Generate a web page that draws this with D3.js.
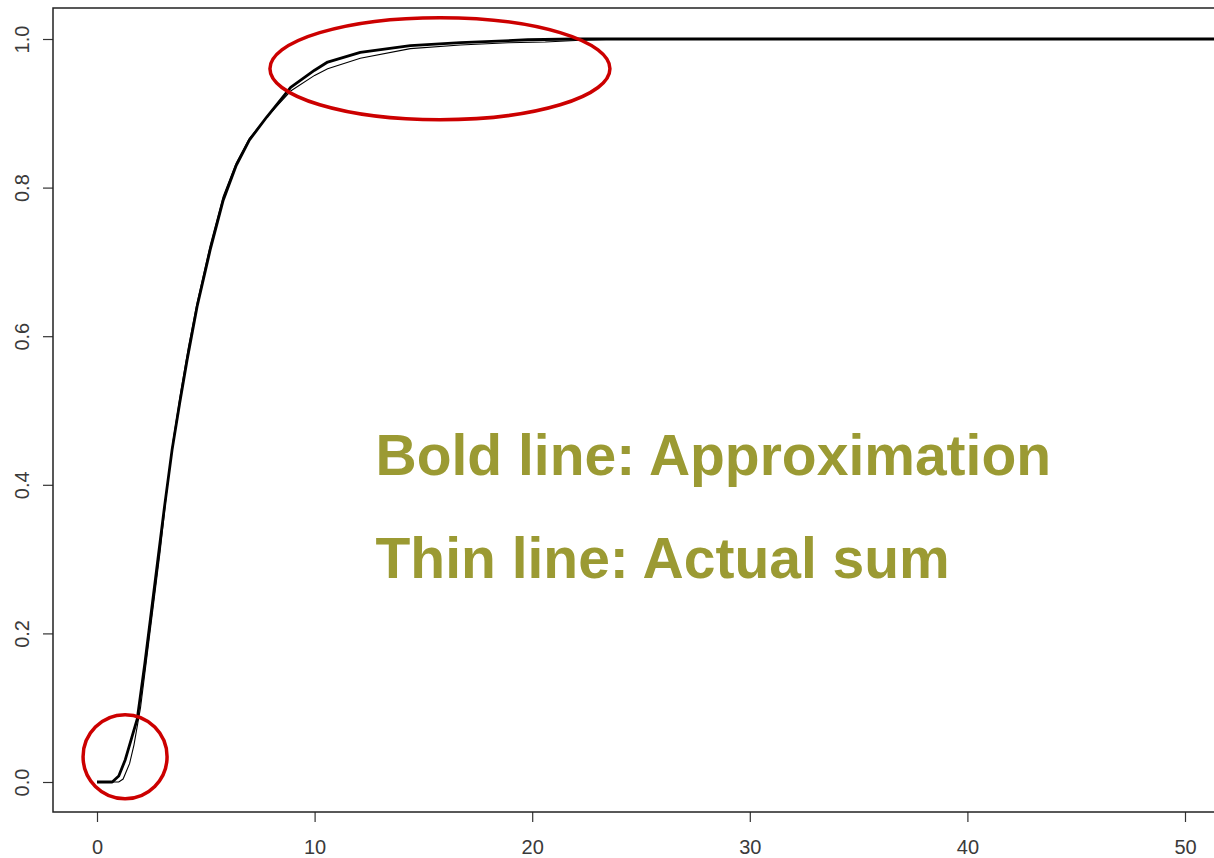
<!DOCTYPE html>
<html>
<head>
<meta charset="utf-8">
<script src="https://cdn.jsdelivr.net/npm/d3@7"></script>
<style>
  html, body { margin: 0; padding: 0; background: #fff; }
  svg { display: block; }
</style>
</head>
<body>
<svg id="chart" width="1214" height="858"></svg>
<script>
// ---- Data ----
const boldT = [0, 0.7, 1.0, 1.3, 1.6, 1.85, 2.2, 2.5, 2.8, 3.1, 3.45, 3.8, 4.14, 4.6, 5.2, 5.8, 6.4, 7.0, 7.8, 8.9, 10.0, 10.6, 12.1, 14.4, 16.7, 19.8, 22.0, 55.0];
const boldY = [0, 0, 0.008, 0.03, 0.06, 0.085, 0.16, 0.23, 0.30, 0.37, 0.447, 0.51, 0.568, 0.64, 0.716, 0.783, 0.83, 0.864, 0.895, 0.935, 0.958, 0.969, 0.982, 0.991, 0.995, 0.999, 1.0, 1.0];

const thinT = [0, 1.0, 1.2, 1.5, 1.7, 2.0, 2.3, 2.6, 2.9, 3.2, 3.5, 3.85, 4.2, 4.6, 5.2, 5.8, 6.4, 7.0, 7.8, 8.9, 10.0, 10.6, 12.1, 14.4, 16.7, 18.9, 20.6, 22.0, 24.1];
const thinY = [0, 0, 0.004, 0.025, 0.05, 0.10, 0.17, 0.24, 0.31, 0.39, 0.46, 0.525, 0.585, 0.645, 0.722, 0.788, 0.833, 0.866, 0.895, 0.930, 0.951, 0.960, 0.974, 0.987, 0.992, 0.995, 0.996, 0.998, 1.0];

const xTicks = [0, 10, 20, 30, 40, 50];
const yTicks = [0.0, 0.2, 0.4, 0.6, 0.8, 1.0];

const labels = ["Bold line: Approximation", "Thin line: Actual sum"];
const labelPos = [[12.8, 0.413], [12.8, 0.2746]]; // data coords of text baseline start

// highlight ellipses: [centerT, centerY]
const ellipseCenters = [[1.29, 0.034], [15.76, 0.96]];

// ---- Layout ----
const svg = d3.select("#chart");
const box = { left: 53, top: 8, bottom: 812, right: 1240 };

const x = d3.scaleLinear().domain([0, 50]).range([97, 1185]);
const y = d3.scaleLinear().domain([0, 1]).range([782, 39]);

svg.append("defs").append("clipPath").attr("id", "clip")
  .append("rect")
  .attr("x", box.left).attr("y", box.top)
  .attr("width", box.right - box.left).attr("height", box.bottom - box.top);

// axes
const axisFont = "Arimo, 'Liberation Sans', Arial, sans-serif";
const xAxis = svg.append("g")
  .attr("transform", `translate(0,${box.bottom})`)
  .call(d3.axisBottom(x).tickValues(xTicks).tickSize(10).tickPadding(18).tickFormat(d3.format("d")));
xAxis.select(".domain").remove();
xAxis.selectAll("line").attr("stroke", "#333").attr("stroke-width", 1.2);
xAxis.selectAll("text").attr("font-family", axisFont).attr("font-size", 20).attr("fill", "#3a3a3a");

const yAxis = svg.append("g")
  .attr("transform", `translate(${box.left},0)`)
  .call(d3.axisLeft(y).tickValues(yTicks).tickSize(10).tickFormat(d3.format(".1f")));
yAxis.select(".domain").remove();
yAxis.selectAll("line").attr("stroke", "#333").attr("stroke-width", 1.2);
yAxis.selectAll("text")
  .attr("font-family", axisFont).attr("font-size", 20).attr("fill", "#3a3a3a")
  .attr("text-anchor", "middle").attr("dy", null).attr("x", null)
  .attr("transform", "translate(-31,0) rotate(-90)")
  .attr("dominant-baseline", "central");

// box
svg.append("rect")
  .attr("x", box.left).attr("y", box.top)
  .attr("width", box.right - box.left).attr("height", box.bottom - box.top)
  .attr("fill", "none").attr("stroke", "#222").attr("stroke-width", 1.5);

// lines
const plot = svg.append("g").attr("clip-path", "url(#clip)");
const line = d3.line().x(d => x(d[0])).y(d => y(d[1]));

const thinData = thinT.map((t, i) => [t, thinY[i]]);
const boldData = boldT.map((t, i) => [t, boldY[i]]);

plot.append("path").datum(thinData)
  .attr("d", line).attr("fill", "none").attr("stroke", "#000").attr("stroke-width", 1.1);
plot.append("path").datum(boldData)
  .attr("d", line).attr("fill", "none").attr("stroke", "#000").attr("stroke-width", 2.8)
  .attr("stroke-linejoin", "round");

// red highlight ellipses
const ellipseRadii = [[42, 42], [170, 51]];
svg.selectAll("ellipse.hl").data(ellipseCenters).join("ellipse")
  .attr("class", "hl")
  .attr("cx", d => x(d[0])).attr("cy", d => y(d[1]))
  .attr("rx", (d, i) => ellipseRadii[i][0]).attr("ry", (d, i) => ellipseRadii[i][1])
  .attr("fill", "none").attr("stroke", "#cc0000").attr("stroke-width", 3.5);

// annotation text
svg.selectAll("text.note").data(labels).join("text")
  .attr("class", "note")
  .attr("x", (d, i) => x(labelPos[i][0]))
  .attr("y", (d, i) => y(labelPos[i][1]))
  .attr("font-family", "'Liberation Sans', Arial, sans-serif")
  .attr("font-weight", "bold").attr("font-size", 57)
  .attr("fill", "#9b9a33")
  .text(d => d);
</script>
</body>
</html>
